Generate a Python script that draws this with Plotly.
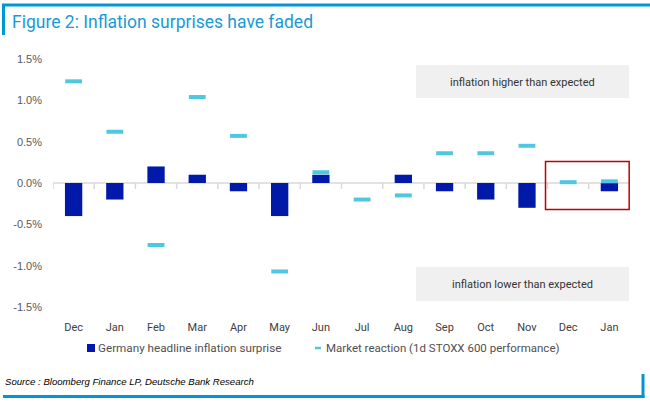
import plotly.graph_objects as go

months = ["Dec", "Jan", "Feb", "Mar", "Apr", "May", "Jun", "Jul", "Aug", "Sep", "Oct", "Nov", "Dec", "Jan"]
inflation_surprise = [-0.4, -0.2, 0.2, 0.1, -0.1, -0.4, 0.1, 0.0, 0.1, -0.1, -0.2, -0.3, 0.0, -0.1]
market_reaction = [1.23, 0.62, -0.75, 1.04, 0.57, -1.07, 0.13, -0.2, -0.15, 0.36, 0.36, 0.45, 0.01, 0.02]
ytick_vals = [-1.5, -1.0, -0.5, 0.0, 0.5, 1.0, 1.5]
ytick_text = ["-1.5%", "-1.0%", "-0.5%", "0.0%", "0.5%", "1.0%", "1.5%"]
series_names = ["Germany headline inflation surprise", "Market reaction (1d STOXX 600 performance)"]

W, H = 650, 402
ML, MR, MT, MB = 53, 20, 59, 95
PW, PH = W - ML - MR, H - MT - MB

def px(x):
    return (x - ML) / PW

def py(y):
    return (H - MB - y) / PH

xs = list(range(len(months)))
BLUE = "#0096d6"
BAR_COLOR = "#0019a8"
MK_COLOR = "#4dc8e0"

fig = go.Figure()
fig.add_trace(go.Bar(
    x=xs, y=inflation_surprise, name=series_names[0],
    marker=dict(color=BAR_COLOR, line=dict(color="#7a8ad6", width=0)),
    width=0.42, showlegend=False,
))
fig.add_trace(go.Scatter(
    x=xs, y=market_reaction, mode="markers", name=series_names[1],
    marker=dict(symbol="line-ew", size=12, color=MK_COLOR, line=dict(color=MK_COLOR, width=4)),
    showlegend=False,
))

shapes = []
# zero line and boundary ticks
shapes.append(dict(type="line", xref="x", yref="y", x0=-0.5, x1=len(months) - 0.5, y0=0, y1=0,
                   line=dict(color="#d9d9d9", width=1.5), layer="below"))
for i in range(len(months) + 1):
    shapes.append(dict(type="line", xref="x", yref="paper", x0=i - 0.5, x1=i - 0.5,
                       y0=py(183), y1=py(189), line=dict(color="#d9d9d9", width=1.5), layer="below"))
# annotation boxes
shapes.append(dict(type="rect", xref="paper", yref="paper", x0=px(416), x1=px(629), y0=py(98), y1=py(65),
                   fillcolor="#f0f0f0", line=dict(width=0), layer="below"))
shapes.append(dict(type="rect", xref="paper", yref="paper", x0=px(416), x1=px(629), y0=py(301), y1=py(267),
                   fillcolor="#f0f0f0", line=dict(width=0), layer="below"))
# red highlight
shapes.append(dict(type="rect", xref="x", yref="y", x0=11.45, x1=13.48, y0=-0.32, y1=0.26,
                   line=dict(color="#c00000", width=1.5)))
# frame decorations
shapes.append(dict(type="line", xref="paper", yref="paper", x0=px(2), x1=px(650), y0=py(5), y1=py(5),
                   line=dict(color=BLUE, width=3)))
shapes.append(dict(type="line", xref="paper", yref="paper", x0=px(3.5), x1=px(3.5), y0=py(4), y1=py(35),
                   line=dict(color=BLUE, width=3)))
shapes.append(dict(type="line", xref="paper", yref="paper", x0=px(3), x1=px(644.5), y0=py(396.5), y1=py(396.5),
                   line=dict(color=BLUE, width=3)))
shapes.append(dict(type="line", xref="paper", yref="paper", x0=px(643), x1=px(643), y0=py(374), y1=py(398),
                   line=dict(color=BLUE, width=3)))
# legend symbols
shapes.append(dict(type="rect", xref="paper", yref="paper", x0=px(87), x1=px(95), y0=py(352), y1=py(344),
                   fillcolor=BAR_COLOR, line=dict(width=0)))
shapes.append(dict(type="line", xref="paper", yref="paper", x0=px(315), x1=px(321), y0=py(348), y1=py(348),
                   line=dict(color=MK_COLOR, width=2.5)))

annotations = [
    dict(text="inflation higher than expected", xref="paper", yref="paper", x=px(522.5), y=py(82),
         xanchor="center", yanchor="middle",
         showarrow=False, font=dict(family="Roboto", size=11, color="#333333")),
    dict(text="inflation lower than expected", xref="paper", yref="paper", x=px(522.5), y=py(284),
         xanchor="center", yanchor="middle",
         showarrow=False, font=dict(family="Roboto", size=11, color="#333333")),
    dict(text=series_names[0], xref="paper", yref="paper", x=px(96), y=py(348),
         xanchor="left", yanchor="middle", showarrow=False,
         font=dict(family="Roboto", size=11.7, color="#505050")),
    dict(text=series_names[1], xref="paper", yref="paper", x=px(324), y=py(348),
         xanchor="left", yanchor="middle", showarrow=False,
         font=dict(family="Roboto", size=11.5, color="#505050")),
    dict(text="<i>Source : Bloomberg Finance LP, Deutsche Bank Research</i>", xref="paper", yref="paper",
         x=px(3), y=py(381), xanchor="left", yanchor="middle", showarrow=False,
         font=dict(family="Liberation Sans", size=9.6, color="#000000")),
]

fig.update_layout(
    width=W, height=H,
    margin=dict(l=ML, r=MR, t=MT, b=MB),
    paper_bgcolor="white", plot_bgcolor="white",
    title=dict(text="Figure 2: Inflation surprises have faded", x=12 / W, xanchor="left",
               y=1 - 22 / H, yanchor="middle", xref="container", yref="container",
               font=dict(family="Roboto", size=17.5, color="#1a9ad6")),
    font=dict(family="Roboto", size=11, color="#404040"),
    showlegend=False,
    xaxis=dict(tickmode="array", tickvals=xs, ticktext=months, range=[-0.5, len(months) - 0.5],
               showgrid=False, zeroline=False, showline=False, ticks="", ticklabelstandoff=12,
               tickfont=dict(family="Roboto", size=11, color="#404040")),
    yaxis=dict(tickmode="array", tickvals=ytick_vals, ticktext=ytick_text, range=[-1.5, 1.5],
               showgrid=False, zeroline=False, showline=False, ticks="", ticklabelstandoff=10,
               tickfont=dict(family="Liberation Sans", size=11, color="#595959")),
    shapes=shapes, annotations=annotations,
    bargap=0.5,
)

fig.write_html("out.html", config={"displayModeBar": False},
               post_script="document.body.style.margin='0';document.body.style.padding='0';")
